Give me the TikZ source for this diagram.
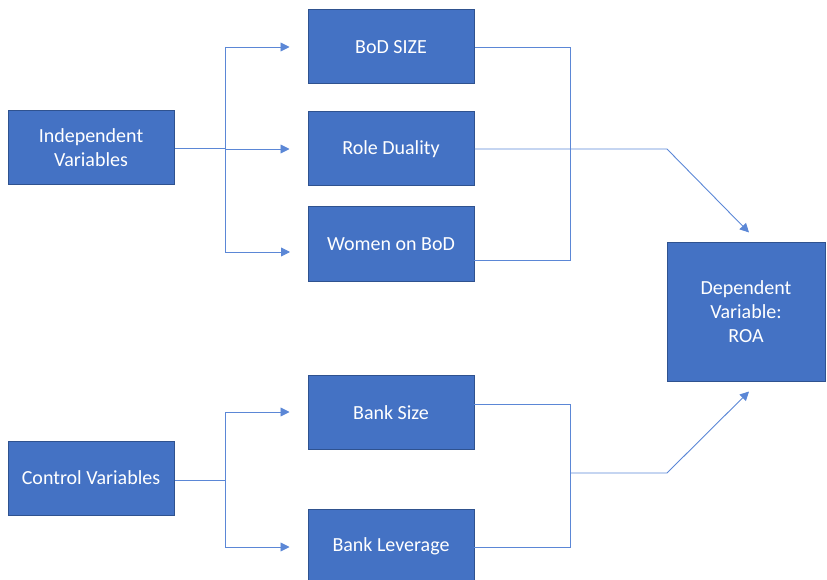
\documentclass[tikz,border=0pt]{standalone}
\usepackage{fontspec}
\setmainfont{Carlito}
\usepackage{tikz}
\usetikzlibrary{arrows.meta}

\definecolor{boxfill}{HTML}{4472C4}
\definecolor{boxline}{HTML}{2F528F}
\definecolor{linkcol}{HTML}{5B87D6}

\tikzset{
  varbox/.style={draw=boxline, line width=1pt, fill=boxfill, text=white,
    minimum width=166pt, minimum height=74pt, align=center, inner sep=2pt,
    font=\fontsize{20}{24}\selectfont},
  link/.style={draw=linkcol, line width=0.9pt},
  arr/.style={link, -{Triangle[length=9pt, width=9pt]}}
}

\begin{document}
\begin{tikzpicture}[x=1pt, y=-1pt]
    \useasboundingbox (0,0) rectangle (827,580);
    \clip (0,0) rectangle (827,580);
    % boxes
    \node[varbox] (IV) at (91, 148){Independent\\Variables};
    \node[varbox] (CV) at (91, 478){Control Variables};
    \node[varbox] (BS) at (391, 47){BoD SIZE};
    \node[varbox] (RD) at (391, 149){Role Duality};
    \node[varbox] (WB) at (391, 244){Women on BoD};
    \node[varbox] (BK) at (391, 412.5){Bank Size};
    \node[varbox] (BL) at (391, 546){Bank Leverage};
    \node[varbox, minimum width=158pt, minimum height=139pt] (DV) at (746, 311.5){Dependent\\Variable:\\ROA};
    % helper points
    \coordinate (IVs) at (225, 148);
    \coordinate (IVt) at (225, 47);
    \coordinate (IVb) at (225, 252);
    \coordinate (WBi) at (290, 252);
    \coordinate (WBo) at (474, 260);
    \coordinate (IVm) at (570, 260);
    \coordinate (RDk) at (667, 149);
    \coordinate (CVs) at (225, 480);
    \coordinate (CVt) at (225, 412);
    \coordinate (CVb) at (225, 547);
    \coordinate (BKo) at (474, 404);
    \coordinate (BLo) at (474, 547);
    \coordinate (CVm) at (570, 547);
    \coordinate (CVk) at (570, 473);
    \coordinate (CVe) at (667, 473);
    % independent variables
    \draw[link] (IV.east |- IVs)--(IVs);
    \draw[link] (IVt)--(IVb);
    \draw[arr] (IVt)--([xshift=-18pt]BS.west);
    \draw[arr] (IVs |- RD)--([xshift=-18pt]RD.west);
    \draw[arr] (IVb)--(WBi);
    \draw[link] (BS.east)-|(IVm)--(WBo);
    \draw[arr] (RD.east)--(RDk)--([xshift=3pt, yshift=9pt]DV.north);
    % control variables
    \draw[link] (CV.east |- CVs)--(CVs);
    \draw[link] (CVt)--(CVb);
    \draw[arr] (CVt)--([xshift=-18pt]BK.west |- CVt);
    \draw[arr] (CVb)--([xshift=-18pt]BL.west |- CVb);
    \draw[link] (BKo)-|(CVm)--(BLo);
    \draw[arr] (CVk)--(CVe)--([xshift=3pt, yshift=-10pt]DV.south);
\end{tikzpicture}
\end{document}
